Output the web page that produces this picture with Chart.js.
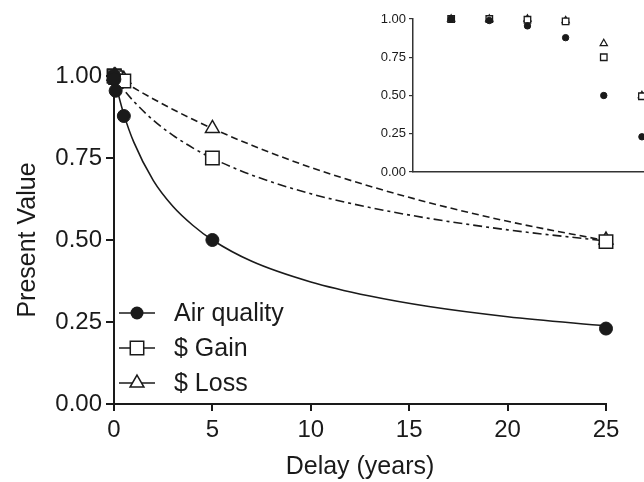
<!DOCTYPE html>
<html>
<head>
<meta charset="utf-8">
<script src="https://cdn.jsdelivr.net/npm/chart.js@4.4.1/dist/chart.umd.min.js"></script>
<style>
  body { margin: 0; background: #fff; overflow: hidden; }
  #wrap { position: relative; width: 644px; height: 482px; overflow: hidden; background: #fff; }
  #mainChart { position: absolute; left: 0; top: 0; }
  #insetChart { position: absolute; left: 360px; top: 0; }
</style>
</head>
<body>
<div id="wrap">
  <canvas id="mainChart" width="644" height="482"></canvas>
  <canvas id="insetChart" width="320" height="200"></canvas>
</div>
<script>
// delays in years: 1 day, 1 week, 1 month, 6 months, 5 years, 25 years
var delays = [0.003, 0.019, 0.083, 0.5, 5, 25];
var airQuality = [1.00, 0.99, 0.955, 0.878, 0.50, 0.23];
var dollarGain = [1.00, 1.00, 0.995, 0.985, 0.75, 0.495];
var dollarLoss = [1.00, 1.00, 1.00, 0.99, 0.84, 0.50];

// fitted curves
var curveX  = [0, 0.25, 0.5, 1, 2, 3, 4, 5, 7, 10, 13, 16, 20, 25];
var airFit  = [1.00, 0.937, 0.883, 0.799, 0.681, 0.602, 0.545, 0.500, 0.435, 0.372, 0.329, 0.297, 0.266, 0.238];
var gainFit = [1.00, 0.978, 0.958, 0.923, 0.865, 0.819, 0.781, 0.749, 0.698, 0.641, 0.599, 0.566, 0.531, 0.497];
var lossFit = [1.00, 0.991, 0.982, 0.964, 0.930, 0.898, 0.868, 0.840, 0.789, 0.721, 0.664, 0.614, 0.557, 0.498];

// inset plots the same points one slot per delay
var insetSlots = [1, 2, 3, 4, 5, 6];

var seriesNames = ['Air quality', '$ Gain', '$ Loss'];
var xTicks = [0, 5, 10, 15, 20, 25];
var yTicks = [0, 0.25, 0.5, 0.75, 1];
var yTickLabels = ['0.00', '0.25', '0.50', '0.75', '1.00'];

var FONT = 'Liberation Sans, Arial, Helvetica, sans-serif';
var INK = '#1a1a1a';

function pairs(xs, ys) {
  return xs.map(function (x, i) { return { x: x, y: ys[i] }; });
}
function setTicks(list) {
  return function (scale) {
    scale.ticks = list.map(function (v) { return { value: v }; });
  };
}
function yLabel(v) {
  var i = yTicks.indexOf(v);
  return i >= 0 ? yTickLabels[i] : '';
}

function marker(ctx, shape, x, y, r, filled) {
  ctx.beginPath();
  if (shape === 'circle') {
    ctx.arc(x, y, r, 0, Math.PI * 2);
  } else if (shape === 'rect') {
    var h = r * Math.SQRT1_2;
    ctx.rect(x - h, y - h, h * 2, h * 2);
  } else {
    ctx.moveTo(x, y - r);
    ctx.lineTo(x + r * 0.866, y + r * 0.5);
    ctx.lineTo(x - r * 0.866, y + r * 0.5);
    ctx.closePath();
  }
  if (filled) {
    ctx.fillStyle = INK;
    ctx.fill();
  } else {
    ctx.fillStyle = '#fff';
    ctx.fill();
    ctx.stroke();
  }
}

// legend sits inside the plot, lower left
var insideLegend = {
  id: 'insideLegend',
  afterDraw: function (chart) {
    var ctx = chart.ctx;
    var shapes = ['circle', 'rect', 'triangle'];
    var radii = [6.5, 9.5, 8];
    var rowY = [313, 348, 383];
    ctx.save();
    ctx.strokeStyle = INK;
    ctx.lineWidth = 1.5;
    for (var i = 0; i < seriesNames.length; i++) {
      ctx.beginPath();
      ctx.moveTo(119, rowY[i]);
      ctx.lineTo(155, rowY[i]);
      ctx.stroke();
      marker(ctx, shapes[i], 137, rowY[i], radii[i], i === 0);
      ctx.fillStyle = INK;
      ctx.font = '25px ' + FONT;
      ctx.textBaseline = 'middle';
      ctx.textAlign = 'left';
      ctx.fillText(seriesNames[i], 174, rowY[i] + 1);
    }
    ctx.restore();
  }
};

new Chart(document.getElementById('mainChart'), {
  type: 'scatter',
  data: {
    datasets: [
      { label: seriesNames[0], data: pairs(delays, airQuality), pointStyle: 'circle', pointRadius: 6.5,
        backgroundColor: INK, borderColor: INK, borderWidth: 1, clip: false },
      { label: seriesNames[1], data: pairs(delays, dollarGain), pointStyle: 'rect', pointRadius: 9.5,
        backgroundColor: '#fff', borderColor: INK, borderWidth: 1.5, clip: false },
      { label: seriesNames[2], data: pairs(delays, dollarLoss), pointStyle: 'triangle', pointRadius: 8,
        backgroundColor: '#fff', borderColor: INK, borderWidth: 1.5, clip: false },
      { label: 'air fit', data: pairs(curveX, airFit), showLine: true, pointRadius: 0,
        borderColor: INK, borderWidth: 1.6, cubicInterpolationMode: 'monotone' },
      { label: 'gain fit', data: pairs(curveX, gainFit), showLine: true, pointRadius: 0,
        borderColor: INK, borderWidth: 1.6, borderDash: [9, 4, 3, 4], cubicInterpolationMode: 'monotone' },
      { label: 'loss fit', data: pairs(curveX, lossFit), showLine: true, pointRadius: 0,
        borderColor: INK, borderWidth: 1.6, borderDash: [7, 4], cubicInterpolationMode: 'monotone' }
    ]
  },
  options: {
    responsive: false,
    animation: false,
    devicePixelRatio: 1,
    layout: { padding: { top: 76, right: 38, left: 0, bottom: 0 } },
    plugins: { legend: { display: false }, tooltip: { enabled: false } },
    scales: {
      x: {
        type: 'linear', min: 0, max: 25,
        afterBuildTicks: setTicks(xTicks),
        afterFit: function (s) { s.height = 78; },
        grid: { drawOnChartArea: false, color: INK, lineWidth: 2, tickLength: 7 },
        border: { color: INK, width: 2 },
        ticks: { color: INK, font: { family: FONT, size: 24 }, padding: 5, maxRotation: 0 },
        title: { display: true, text: 'Delay (years)', color: INK, font: { family: FONT, size: 25 }, padding: 0 }
      },
      y: {
        type: 'linear', min: 0, max: 1,
        afterBuildTicks: setTicks(yTicks),
        afterFit: function (s) { s.width = 114; },
        grid: { drawOnChartArea: false, color: INK, lineWidth: 2, tickLength: 8 },
        border: { color: INK, width: 2 },
        ticks: { color: INK, font: { family: FONT, size: 24 }, padding: 4, callback: yLabel },
        title: { display: true, text: 'Present Value', color: INK, font: { family: FONT, size: 25 }, padding: { top: 13, bottom: 0 } }
      }
    }
  },
  plugins: [insideLegend]
});

new Chart(document.getElementById('insetChart'), {
  type: 'scatter',
  data: {
    datasets: [
      { label: seriesNames[0], data: pairs(insetSlots, airQuality), pointStyle: 'circle', pointRadius: 3.2,
        backgroundColor: INK, borderColor: INK, borderWidth: 1, clip: false },
      { label: seriesNames[1], data: pairs(insetSlots, dollarGain), pointStyle: 'rect', pointRadius: 4.6,
        backgroundColor: '#fff', borderColor: INK, borderWidth: 1.3, clip: false },
      { label: seriesNames[2], data: pairs(insetSlots, dollarLoss), pointStyle: 'triangle', pointRadius: 4.2,
        backgroundColor: '#fff', borderColor: INK, borderWidth: 1.2, clip: false }
    ]
  },
  options: {
    responsive: false,
    animation: false,
    devicePixelRatio: 1,
    layout: { padding: { top: 19, right: 19, left: 0, bottom: 0 } },
    plugins: { legend: { display: false }, tooltip: { enabled: false } },
    scales: {
      x: {
        type: 'linear', min: 0, max: 6.5,
        afterFit: function (s) { s.height = 28; },
        grid: { display: false },
        border: { color: '#333', width: 1.5 },
        ticks: { display: false }
      },
      y: {
        type: 'linear', min: 0, max: 1,
        afterBuildTicks: setTicks(yTicks),
        afterFit: function (s) { s.width = 53; },
        grid: { drawOnChartArea: false, color: '#333', lineWidth: 1.2, tickLength: 4 },
        border: { color: '#333', width: 1.5 },
        ticks: { color: INK, font: { family: FONT, size: 13 }, padding: 3, callback: yLabel }
      }
    }
  }
});
</script>
</body>
</html>
